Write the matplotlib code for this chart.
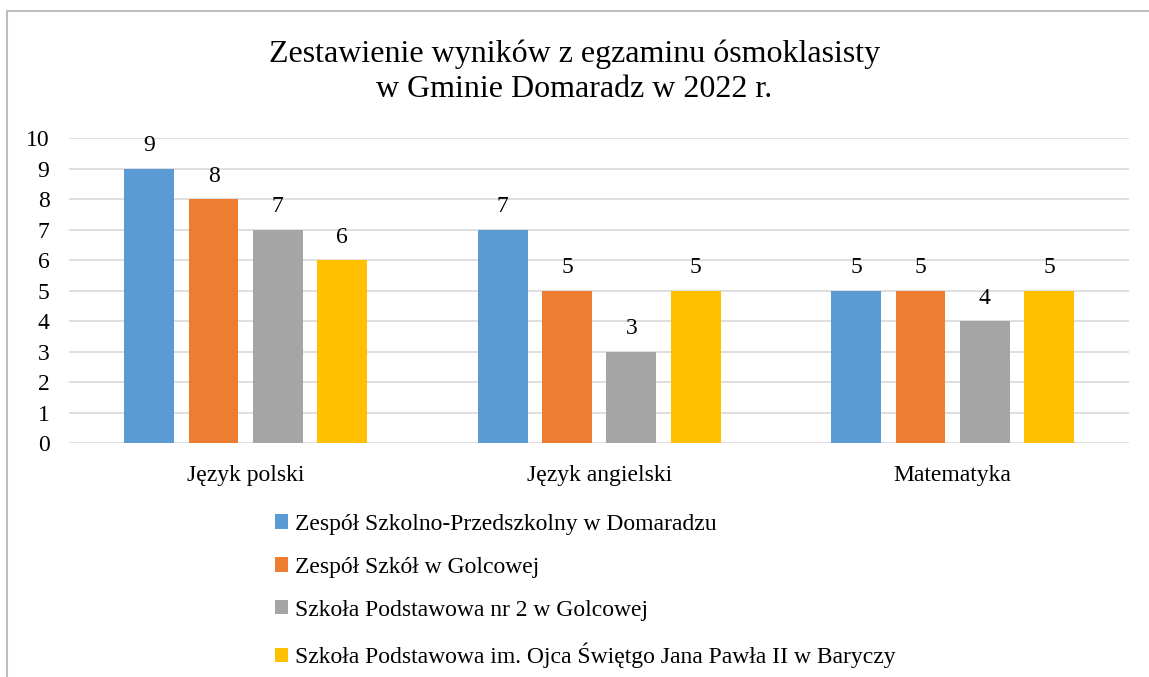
import numpy as np
import matplotlib.pyplot as plt
from matplotlib.lines import Line2D

plt.rcParams['font.family'] = ['Liberation Serif', 'DejaVu Serif']

subjects = ['Język polski', 'Język angielski', 'Matematyka']
schools = [
    'Zespół Szkolno-Przedszkolny w Domaradzu',
    'Zespół Szkół w Golcowej',
    'Szkoła Podstawowa nr 2 w Golcowej',
    'Szkoła Podstawowa im. Ojca Świętgo Jana Pawła II w Baryczy',
]
domaradz = [9, 7, 5]
golcowa = [8, 5, 5]
golcowa_sp2 = [7, 3, 4]
barycz = [6, 5, 5]
colors = ['#5b9bd5', '#ed7d31', '#a5a5a5', '#ffc000']

fig = plt.figure(figsize=(11.49, 6.77), dpi=100)
ax = fig.add_axes([0.060, 0.3456, 0.923, 0.4505])

x = np.arange(len(subjects))
step = 0.182
width = 0.141
series = [domaradz, golcowa, golcowa_sp2, barycz]
for i, (vals, name, c) in enumerate(zip(series, schools, colors)):
    pos = x + (i - 1.5) * step
    bars = ax.bar(pos, vals, width, color=c, label=name, zorder=3)
    for b, v in zip(bars, vals):
        ax.annotate(str(v), (b.get_x() + b.get_width() / 2, v),
                    xytext=(0, 9), textcoords='offset points',
                    ha='center', va='bottom', fontsize=17)

ax.set_xlim(-0.5, 2.5)
ax.set_ylim(0, 10)
ax.set_yticks(range(0, 11))
ax.set_xticks(x)
ax.set_xticklabels(subjects, fontsize=17)
ax.tick_params(axis='y', labelsize=17, length=0, pad=14)
ax.tick_params(axis='x', length=0, pad=16)
ax.grid(axis='y', color='#d9d9d9', linewidth=1.2, zorder=0)
for s in ax.spines.values():
    s.set_visible(False)

fig.suptitle('Zestawienie wyników z egzaminu ósmoklasisty\nw Gminie Domaradz w 2022 r.',
             y=0.942, fontsize=23, linespacing=1.3)

leg = fig.legend(loc='upper left', bbox_to_anchor=(0.231, 0.255), frameon=False,
                 fontsize=17, handlelength=0.55, handleheight=0.55,
                 handletextpad=0.3, labelspacing=0.93, borderaxespad=0)

# chart frame (top and left edges visible)
fig.add_artist(Line2D([0.006, 1.0], [0.984, 0.984], color='#bfbfbf', lw=1.5,
                      transform=fig.transFigure))
fig.add_artist(Line2D([0.006, 0.006], [0.0, 0.984], color='#bfbfbf', lw=1.5,
                      transform=fig.transFigure))

fig.savefig('out.png', dpi=100)
